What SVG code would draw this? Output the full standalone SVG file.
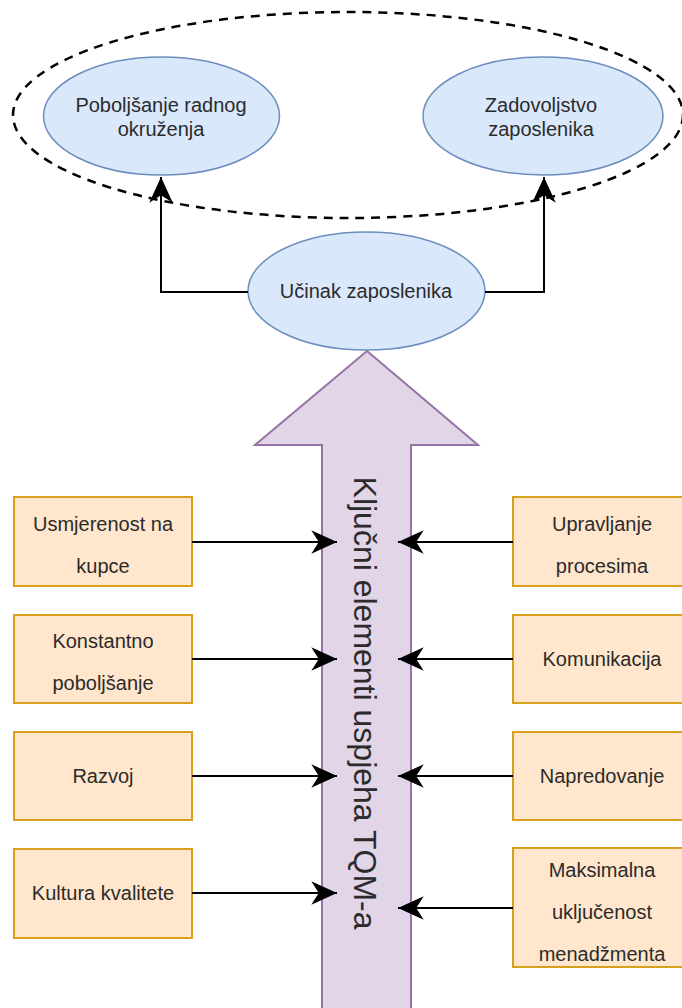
<svg xmlns="http://www.w3.org/2000/svg" width="682" height="1008" viewBox="0 0 682 1008">
<style>
.ell{fill:#dae8fc;stroke:#6c8ebf;stroke-width:1.5}
.box{fill:#ffe6cc;stroke:#d6a11c;stroke-width:2}
.t{font-family:"Liberation Sans",Arial,sans-serif;font-size:20px;fill:#2b2b2b;text-anchor:middle}
.big{font-family:"Liberation Sans",Arial,sans-serif;font-size:32px;fill:#2b2b2b;text-anchor:middle}
.c{fill:none;stroke:#000;stroke-width:2;marker-end:url(#ah)}
</style>
<defs>
<marker id="ah" markerUnits="userSpaceOnUse" markerWidth="30" markerHeight="30" viewBox="-26 -13 28 26" refX="0" refY="0" orient="auto">
<path d="M-24,-11 L0,0 L-24,11 L-17,0 Z" fill="#000"/>
</marker>
</defs>
<rect width="682" height="1008" fill="#fff"/>
<g id="group-outline">
<ellipse cx="348" cy="115" rx="335" ry="103" fill="none" stroke="#000" stroke-width="2.5" stroke-dasharray="9 7"/>
</g>
<g id="node-poboljsanje">
<ellipse class="ell" cx="161.5" cy="116" rx="118" ry="59"/>
<text class="t" x="161" y="112">Poboljšanje radnog</text>
<text class="t" x="161" y="136">okruženja</text>
</g>
<g id="node-zadovoljstvo">
<ellipse class="ell" cx="543" cy="116" rx="120" ry="59"/>
<text class="t" x="541" y="112">Zadovoljstvo</text>
<text class="t" x="541" y="136">zaposlenika</text>
</g>
<g id="node-ucinak">
<ellipse class="ell" cx="366.5" cy="291" rx="118.5" ry="59"/>
<text class="t" x="366" y="298">Učinak zaposlenika</text>
</g>
<g id="node-tqm">
<path d="M367,351 L478,445 L411,445 L411,1012 L322,1012 L322,445 L255,445 Z" fill="#e1d5e7" stroke="#9673a6" stroke-width="2"/>
<text class="big" transform="translate(354,703) rotate(90)">Ključni elementi uspjeha TQM-a</text>
</g>
<g id="node-usmjerenost">
<rect class="box" x="14" y="497" width="178" height="89"/>
<text class="t" x="103" y="531">Usmjerenost na</text>
<text class="t" x="103" y="573">kupce</text>
</g>
<g id="node-konstantno">
<rect class="box" x="14" y="615" width="178" height="88"/>
<text class="t" x="103" y="648">Konstantno</text>
<text class="t" x="103" y="690">poboljšanje</text>
</g>
<g id="node-razvoj">
<rect class="box" x="14" y="732" width="178" height="88"/>
<text class="t" x="103" y="783">Razvoj</text>
</g>
<g id="node-kultura">
<rect class="box" x="14" y="849" width="178" height="89"/>
<text class="t" x="103" y="900">Kultura kvalitete</text>
</g>
<g id="node-upravljanje">
<rect class="box" x="513" y="497" width="178" height="89"/>
<text class="t" x="602" y="531">Upravljanje</text>
<text class="t" x="602" y="573">procesima</text>
</g>
<g id="node-komunikacija">
<rect class="box" x="513" y="615" width="178" height="88"/>
<text class="t" x="602" y="666">Komunikacija</text>
</g>
<g id="node-napredovanje">
<rect class="box" x="513" y="732" width="178" height="88"/>
<text class="t" x="602" y="783">Napredovanje</text>
</g>
<g id="node-maksimalna">
<rect class="box" x="513" y="848" width="178" height="119"/>
<text class="t" x="602" y="877">Maksimalna</text>
<text class="t" x="602" y="919">uključenost</text>
<text class="t" x="602" y="961">menadžmenta</text>
</g>
<g id="connectors">
<path class="c" d="M248,292 L161,292 L161,177"/>
<path class="c" d="M485,292 L544,292 L544,177"/>
<path class="c" d="M192,542 L337,542"/>
<path class="c" d="M192,659 L337,659"/>
<path class="c" d="M192,776 L337,776"/>
<path class="c" d="M192,893 L337,893"/>
<path class="c" d="M513,542 L398,542"/>
<path class="c" d="M513,659 L398,659"/>
<path class="c" d="M513,776 L398,776"/>
<path class="c" d="M513,908 L398,908"/>
</g>
</svg>
